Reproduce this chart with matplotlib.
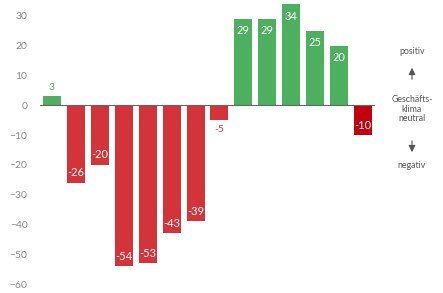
import matplotlib
matplotlib.use("Agg")
import matplotlib.pyplot as plt

# Geschäftsklima-Saldo je Periode
values = [3, -26, -20, -54, -53, -43, -39, -5, 29, 29, 34, 25, 20, -10]
yticks = [30, 20, 10, 0, -10, -20, -30, -40, -50, -60]

GREEN = "#4cb060"
RED = "#d2343a"
DARK_RED = "#c2000e"

plt.rcParams["font.family"] = ["Lato", "DejaVu Sans"]

W, H = 443, 293
fig = plt.figure(figsize=(W / 100, H / 100), dpi=100)
ax = fig.add_axes([40 / W, 1 - 290 / H, (375 - 40) / W, (290 - 4) / H])

x = list(range(len(values)))
colors = [GREEN if v > 0 else RED for v in values]
colors[-1] = DARK_RED
ax.bar(x, values, width=0.75, color=colors, zorder=2)
ax.axhline(0, color="#666666", lw=0.8, zorder=3)

for i, v in enumerate(values):
    if abs(v) < 8:
        # small bars: label outside, in bar colour
        if v > 0:
            ax.text(i, v + 1.5, str(v), ha="center", va="bottom", fontsize=7.5, color=colors[i])
        else:
            ax.text(i, v - 1.5, str(v), ha="center", va="top", fontsize=7.5, color=colors[i])
    elif v > 0:
        ax.text(i, v - 2.2, str(v), ha="center", va="top", fontsize=8, color="white")
    else:
        ax.text(i, v + 1.5, str(v), ha="center", va="bottom", fontsize=8, color="white")

ax.set_xlim(-0.5, 13.5)
ax.set_ylim(-62, 34)
ax.set_xticks([])
ax.set_yticks(yticks)
ax.tick_params(axis="y", length=0, pad=9, labelsize=7.5, labelcolor="#8a8a8a")
for s in ax.spines.values():
    s.set_visible(False)

# Legende rechts
tx = 412 / W
def fy(py):
    return 1 - py / H

kw = dict(ha="center", va="center", fontsize=6.3, color="#555555")
fig.text(tx, fy(51), "positiv", **kw)
fig.text(tx, fy(109), "Geschäfts-\nklima\nneutral", linespacing=1.1, **kw)
fig.text(tx, fy(166), "negativ", **kw)
arrow = dict(arrowstyle="-|>,head_length=0.4,head_width=0.2", color="#555555",
             lw=0.8, mutation_scale=10)
fig.add_artist(matplotlib.patches.FancyArrowPatch((tx, fy(82)), (tx, fy(65)),
                                                  transform=fig.transFigure, **arrow))
fig.add_artist(matplotlib.patches.FancyArrowPatch((tx, fy(138)), (tx, fy(155)),
                                                  transform=fig.transFigure, **arrow))

fig.savefig("out.png", dpi=100)
